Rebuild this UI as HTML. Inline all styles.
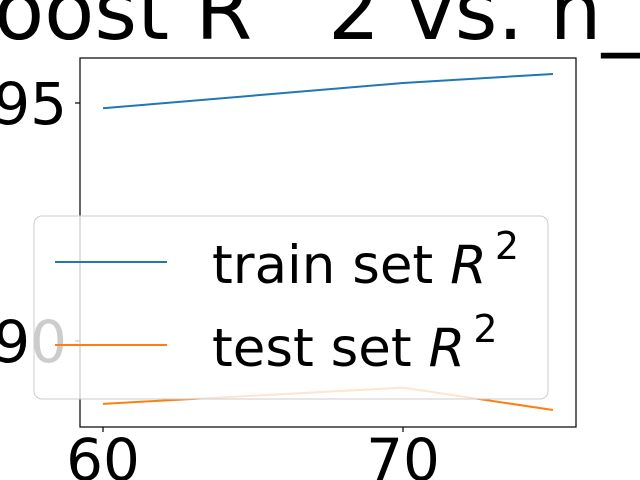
<!DOCTYPE html>
<html><head><meta charset="utf-8"><style>
body{margin:0;background:#fff;}
svg{display:block;font-family:"DejaVu Sans","Liberation Sans",sans-serif;}
</style></head><body>
<svg id="chart" width="640" height="480" viewBox="0 0 640 480">
<rect x="0" y="0" width="640" height="480" fill="#fff"/>
<g>
<text x="-6" y="39" font-size="82">oost R</text>
<text x="328" y="39" font-size="82">2 vs. n_</text>
</g>
<g id="plot"></g>
</svg>
<script>
const xValues = [60, 70, 75];
const trainR2 = [0.9489, 0.9542, 0.9561];
const testR2 = [0.8868, 0.8902, 0.8855];
const xTicks = [60, 70];
const xTickLabels = ["60", "70"];
const yTicks = [0.95, 0.90];
const yTickLabels = ["95", "90"];

const NS = "http://www.w3.org/2000/svg";
const L = 80, R = 576, T = 58, B = 427;
function xs(v){ return 103 + (v - 60) * 30; }
function ys(v){ return 103 + (0.95 - v) / 0.05 * 238; }
const g = document.getElementById('plot');
function mk(tag, attrs, parent){
  const e = document.createElementNS(NS, tag);
  for (const k in attrs) e.setAttribute(k, attrs[k]);
  (parent || g).appendChild(e);
  return e;
}
function line(vals, color, name){
  const p = mk('polyline', {points: vals.map((v,i)=>xs(xValues[i])+','+ys(v)).join(' '), fill:'none', stroke:color, 'stroke-width':2});
  
  
}
line(trainR2, '#1f77b4', 'train-line');
line(testR2, '#ff7f0e', 'test-line');
const frame = mk('rect', {x:L, y:T, width:R-L, height:B-T, fill:'none', stroke:'#000', 'stroke-width':1.2});


xTicks.forEach((t,i)=>{
  const tk = mk('line', {x1:xs(t), x2:xs(t), y1:B, y2:B+5, stroke:'#000', 'stroke-width':1.2});
  
  
  const tx = mk('text', {x:xs(t), y:480, 'font-size':58, 'text-anchor':'middle'});
  tx.textContent = xTickLabels[i];
  
  
});
yTicks.forEach((t,i)=>{
  const tk = mk('line', {x1:L-5, x2:L, y1:ys(t), y2:ys(t), stroke:'#000', 'stroke-width':1.2});
  
  
  const tx = mk('text', {x:67, y:ys(t)+21, 'font-size':58, 'text-anchor':'end'});
  tx.textContent = yTickLabels[i];
  
  
});
const lg = mk('g', {});


const box = mk('rect', {x:34, y:216, width:514, height:183, rx:8, fill:'#fff', 'fill-opacity':0.8, stroke:'#ccc', 'stroke-width':1}, lg);


[['train set ', '#1f77b4', 262, 283, 'legend-entry-train'], ['test set ', '#ff7f0e', 345, 366, 'legend-entry-test']].forEach(e=>{
  const eg = mk('g', {}, lg);
  
  
  mk('line', {x1:55, x2:167, y1:e[2], y2:e[2], stroke:e[1], 'stroke-width':2}, eg);
  const t = mk('text', {x:212, y:e[3], 'font-size':53}, eg);
  t.textContent = e[0];
  const r = mk('tspan', {'font-style':'italic'}, t); r.textContent = 'R';
  const s = mk('tspan', {dx:8, dy:-24, 'font-size':38}, t); s.textContent = '2';
});
</script>
</body></html>
